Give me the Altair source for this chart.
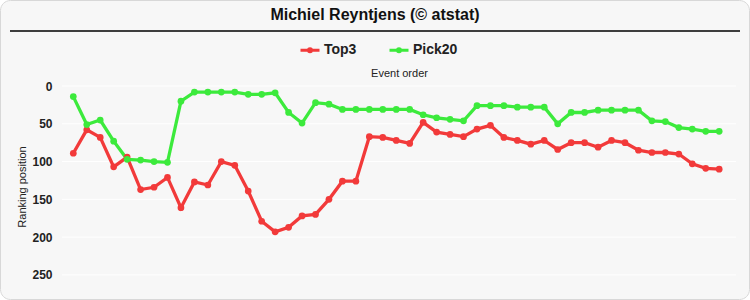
import altair as alt
import pandas as pd

title_text = "Michiel Reyntjens (© atstat)"
series_names = ["Top3", "Pick20"]
series_colors = ["#f23a3a", "#3cea3c"]
top3 = [89, 58, 68, 107, 94, 137, 134, 121, 161, 127, 131, 100, 105, 139, 179,
        193, 187, 172, 170, 150, 126, 126, 67, 68, 72, 76, 48, 61, 64, 67,
        57, 52, 68, 72, 77, 72, 84, 75, 75, 81, 72, 75, 85, 88, 88, 90, 103, 109, 110]
pick20 = [14, 51, 45, 73, 97, 98, 100, 101, 20, 8, 8, 8, 8, 11, 11, 9, 35, 49,
          22, 24, 31, 31, 31, 31, 31, 31, 38, 42, 44, 46, 26, 26, 26, 28, 28, 28,
          50, 35, 35, 32, 32, 32, 32, 46, 47, 55, 57, 60, 60]
y_ticks = [0, 50, 100, 150, 200, 250]

events = list(range(1, len(top3) + 1))
df = pd.DataFrame({
    "event": events + events,
    "rank": top3 + pick20,
    "series": ["Top3"] * len(top3) + ["Pick20"] * len(pick20),
})
grid_df = pd.DataFrame({"tick": y_ticks})

W, H = 674, 213
FONT = "Liberation Sans"

x_scale = alt.Scale(domain=[0.16, 50.25], nice=False, zero=False)
y_scale = alt.Scale(domain=[-8, 274], reverse=True, nice=False, zero=False)
color_scale = alt.Scale(domain=series_names, range=series_colors)

# legend symbol: short line with a dot in the middle (stroked path)
legend_path = "M-1,0L1,0M-0.16,0A0.16,0.16 0 1 1 0.16,0A0.16,0.16 0 1 1 -0.16,0Z"

background = alt.Chart(pd.DataFrame({"a": [0]})).mark_rect(
    fill="#f7f7f7", stroke="#d8d8d8", strokeWidth=1, cornerRadius=10
).encode(
    x=alt.value(-61.5), x2=alt.value(W + 13.5),
    y=alt.value(-79.5), y2=alt.value(H + 6.5),
)

header_rule = alt.Chart(pd.DataFrame({"a": [0]})).mark_rule(
    color="#000000", strokeWidth=1.5
).encode(
    x=alt.value(-52), x2=alt.value(W + 4), y=alt.value(-49)
)

grid = alt.Chart(grid_df).mark_rule(color="#ffffff", strokeWidth=1).encode(
    y=alt.Y("tick:Q", scale=y_scale,
            axis=alt.Axis(values=y_ticks, title="Ranking position", grid=False,
                          ticks=False, domain=False, labelFontWeight="bold",
                          labelFontSize=12, labelColor="#222222", labelPadding=10,
                          titleFontSize=11, titleFontWeight="normal",
                          titleColor="#222222", titlePadding=4, zindex=1)),
    x=alt.value(0), x2=alt.value(W),
)

legend = alt.Legend(orient="none", legendX=237, legendY=-41,
                    direction="horizontal", title=None,
                    symbolType=legend_path, symbolSize=361,
                    symbolStrokeWidth=3, zindex=1,
                    labelFontSize=14, labelFontWeight="bold",
                    labelColor="#222222", labelOffset=3,
                    columnPadding=26)

base = alt.Chart(df).encode(
    x=alt.X("event:Q", scale=x_scale,
            axis=alt.Axis(orient="top", title="Event order", labels=False,
                          ticks=False, domain=False, grid=False,
                          titleFontSize=11, titleFontWeight="normal",
                          titleColor="#222222", titlePadding=2, zindex=1)),
    y=alt.Y("rank:Q", scale=y_scale),
    color=alt.Color("series:N", scale=color_scale, sort=series_names,
                    legend=legend),
)

lines = base.mark_line(strokeWidth=3.3)
points = base.mark_point(filled=True, size=45, opacity=1)

chart = alt.layer(background, header_rule, grid, lines, points).properties(
    width=W, height=H,
    title=alt.TitleParams(title_text, anchor="middle", dx=-24, fontSize=16,
                          fontWeight="bold", color="#111111", font=FONT,
                          frame="group", offset=-23, zindex=1),
    autosize=alt.AutoSizeParams(type="none"),
    padding={"left": 62, "top": 80, "right": 14, "bottom": 7},
).configure(
    background="#ffffff", font=FONT,
).configure_view(stroke=None)

chart.save("out.html", embed_options={"renderer": "svg", "actions": False})
